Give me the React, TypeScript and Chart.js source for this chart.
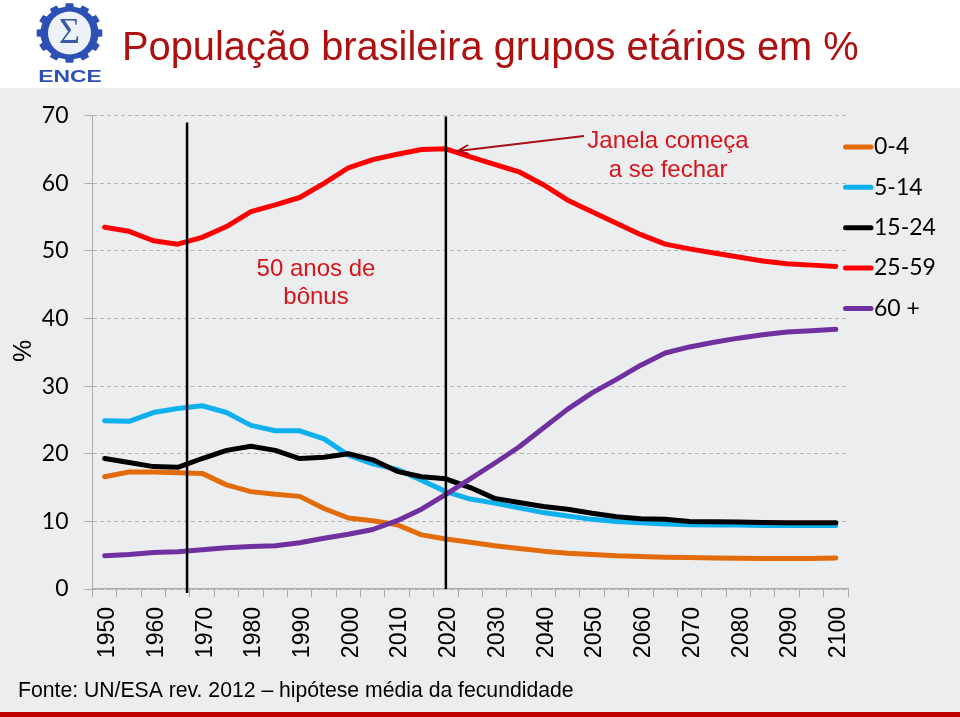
import React, { useEffect, useRef } from "react";
import { Chart, registerables } from "chart.js";

Chart.register(...registerables);

const years = [
  "1950", "1955", "1960", "1965", "1970", "1975", "1980", "1985", "1990", "1995", "2000",
  "2005", "2010", "2015", "2020", "2025", "2030", "2035", "2040", "2045", "2050",
  "2055", "2060", "2065", "2070", "2075", "2080", "2085", "2090", "2095", "2100",
];
const age0to4 = [16.6, 17.3, 17.3, 17.2, 17.1, 15.4, 14.4, 14.0, 13.7, 11.9, 10.5, 10.1, 9.5, 8.0, 7.4, 6.9, 6.4, 6.0, 5.6, 5.3, 5.1, 4.9, 4.8, 4.7, 4.65, 4.6, 4.55, 4.5, 4.5, 4.5, 4.6];
const age5to14 = [24.9, 24.8, 26.1, 26.7, 27.1, 26.1, 24.2, 23.4, 23.4, 22.2, 19.8, 18.5, 17.7, 16.1, 14.4, 13.3, 12.7, 12.0, 11.3, 10.8, 10.3, 10.0, 9.8, 9.6, 9.5, 9.45, 9.45, 9.4, 9.4, 9.4, 9.4];
const age15to24 = [19.3, 18.7, 18.1, 18.0, 19.3, 20.5, 21.1, 20.5, 19.3, 19.5, 20.0, 19.1, 17.4, 16.6, 16.3, 15.0, 13.4, 12.8, 12.2, 11.8, 11.2, 10.7, 10.4, 10.3, 10.0, 9.95, 9.9, 9.85, 9.8, 9.8, 9.8];
const age25to59 = [53.5, 52.9, 51.5, 51.0, 52.0, 53.6, 55.8, 56.8, 57.9, 60.0, 62.3, 63.5, 64.3, 65.0, 65.1, 63.9, 62.8, 61.7, 59.8, 57.5, 55.8, 54.1, 52.4, 51.0, 50.3, 49.7, 49.1, 48.5, 48.1, 47.9, 47.7];
const age60plus = [4.9, 5.1, 5.4, 5.5, 5.8, 6.1, 6.3, 6.4, 6.85, 7.5, 8.1, 8.8, 10.1, 11.8, 14.0, 16.3, 18.6, 21.0, 23.8, 26.6, 29.0, 31.0, 33.1, 34.9, 35.8, 36.5, 37.1, 37.6, 38.0, 38.2, 38.4];

const seriesNames = ["0-4", "5-14", "15-24", "25-59", "60 +"];
const seriesValues = [age0to4, age5to14, age15to24, age25to59, age60plus];
const seriesColors = ["#E36C0A", "#0FB0EE", "#000000", "#FF0000", "#7030A0"];

const titleText = "População brasileira grupos etários em %";
const sourceText = "Fonte: UN/ESA rev. 2012 – hipótese média da fecundidade";
const yAxisText = "%";
const bonusLines = ["50 anos de", "bônus"];
const windowLines = ["Janela começa", "a se fechar"];

// vertical markers, in (category index, value) terms
const bonusStart = { index: 3.38, top: 69, bottom: -0.6 };
const bonusEnd = { index: 14, top: 69.9, bottom: 0 };

const SANS = '"Liberation Sans", Arial, sans-serif';
const LATO = 'Lato, "Open Sans", sans-serif';

function drawLogo(ctx: CanvasRenderingContext2D) {
  const blue = "#2D50B4";
  const cx = 69.5;
  const cy = 33;
  ctx.save();
  ctx.save();
  ctx.translate(cx, cy);
  ctx.scale(1.1, 1);
  ctx.fillStyle = blue;
  ctx.beginPath();
  const teeth = 12;
  for (let i = 0; i < teeth; i++) {
    const a = (i / teeth) * Math.PI * 2 - Math.PI / 2;
    const w = (Math.PI * 2) / teeth;
    const pts: [number, number][] = [
      [a - w * 0.5, 26.5],
      [a - w * 0.28, 26.5],
      [a - w * 0.22, 30],
      [a + w * 0.22, 30],
      [a + w * 0.28, 26.5],
    ];
    pts.forEach(([t, r], k) => {
      const x = r * Math.cos(t);
      const y = r * Math.sin(t);
      if (i === 0 && k === 0) ctx.moveTo(x, y);
      else ctx.lineTo(x, y);
    });
  }
  ctx.closePath();
  ctx.fill();
  ctx.restore();
  ctx.fillStyle = "#EDF1F8";
  ctx.beginPath();
  ctx.arc(cx, cy, 21.5, 0, Math.PI * 2);
  ctx.fill();
  ctx.fillStyle = "#3A5AA8";
  ctx.font = '36px "Liberation Serif", serif';
  ctx.textAlign = "center";
  ctx.textBaseline = "middle";
  ctx.fillText("Σ", cx, cy + 1);
  ctx.font = "bold 16px " + SANS;
  ctx.fillStyle = blue;
  ctx.translate(70, 82);
  ctx.scale(1.43, 1);
  ctx.textBaseline = "alphabetic";
  ctx.fillText("ENCE", 0, 0);
  ctx.restore();
}

const backdrop = {
  id: "backdrop",
  beforeDraw(chart: any) {
    const { ctx, width, height } = chart;
    ctx.save();
    ctx.fillStyle = "#FFFFFF";
    ctx.fillRect(0, 0, width, height);
    ctx.fillStyle = "#ECEDEF";
    ctx.fillRect(0, 88, width, 624);
    ctx.fillStyle = "#C00000";
    ctx.fillRect(0, 712, width, 5);
    ctx.restore();
    drawLogo(ctx);
  },
};

const overlay = {
  id: "overlay",
  afterDatasetsDraw(chart: any) {
    const { ctx } = chart;
    const xs = chart.scales.x;
    const ys = chart.scales.y;
    ctx.save();
    // vertical markers
    ctx.strokeStyle = "#000000";
    ctx.lineWidth = 2.5;
    [bonusStart, bonusEnd].forEach((m) => {
      const x = xs.getPixelForValue(m.index);
      ctx.beginPath();
      ctx.moveTo(x, ys.getPixelForValue(m.top));
      ctx.lineTo(x, ys.getPixelForValue(m.bottom));
      ctx.stroke();
    });
    // arrow to the peak
    ctx.strokeStyle = "#A50F15";
    ctx.lineWidth = 2;
    ctx.beginPath();
    ctx.moveTo(584, 136);
    ctx.lineTo(458, 151);
    ctx.moveTo(468, 145);
    ctx.lineTo(458, 151);
    ctx.lineTo(469, 154);
    ctx.stroke();

    // texts
    ctx.textBaseline = "alphabetic";
    ctx.fillStyle = "#D7141A";
    ctx.font = "24px " + SANS;
    ctx.textAlign = "center";
    ctx.fillText(windowLines[0], 668, 148);
    ctx.fillText(windowLines[1], 668, 177);
    ctx.fillText(bonusLines[0], 316, 276);
    ctx.fillText(bonusLines[1], 316, 304);

    ctx.textAlign = "left";
    ctx.fillStyle = "#AE0F0F";
    ctx.font = "39.8px " + SANS;
    ctx.fillText(titleText, 122, 60);

    ctx.fillStyle = "#000000";
    ctx.font = "21.2px " + SANS;
    ctx.fillText(sourceText, 18, 697);

    ctx.save();
    ctx.translate(31, 351);
    ctx.rotate(-Math.PI / 2);
    ctx.textAlign = "center";
    ctx.font = "25px " + SANS;
    ctx.fillText(yAxisText, 0, 0);
    ctx.restore();

    // legend
    ctx.textBaseline = "middle";
    chart.data.datasets.forEach((ds: any, i: number) => {
      const y = 147 + i * 40.35;
      ctx.strokeStyle = ds.borderColor;
      ctx.lineWidth = 5;
      ctx.lineCap = "round";
      ctx.beginPath();
      ctx.moveTo(845.5, y);
      ctx.lineTo(871, y);
      ctx.stroke();
      ctx.fillStyle = "#000000";
      ctx.font = "23px " + LATO;
      ctx.textAlign = "left";
      ctx.fillText(ds.label, 874, y);
    });
    ctx.restore();
  },
};

export default function App() {
  const ref = useRef<HTMLCanvasElement>(null);

  useEffect(() => {
    const chart = new Chart(ref.current as HTMLCanvasElement, {
      type: "line",
      data: {
        labels: years,
        datasets: seriesNames.map((name, i) => ({
          label: name,
          data: seriesValues[i],
          borderColor: seriesColors[i],
          backgroundColor: seriesColors[i],
          borderWidth: 5,
          borderCapStyle: "round",
          borderJoinStyle: "round",
          pointRadius: 0,
          tension: 0,
          fill: false,
          order: seriesNames.length - i,
        })),
      },
      options: {
        animation: false,
        responsive: false,
        devicePixelRatio: 1,
        layout: { padding: { left: 0, right: 112, top: 115.7, bottom: 0 } },
        plugins: { legend: { display: false }, title: { display: false }, tooltip: { enabled: false } },
        scales: {
          x: {
            type: "category",
            offset: true,
            afterFit(scale: any) {
              scale.height = 128;
            },
            border: { display: true, color: "#ABABAB", width: 1.5 },
            grid: {
              offset: true,
              drawOnChartArea: false,
              drawTicks: true,
              tickLength: 8,
              color: "#ABABAB",
              lineWidth: 1,
            },
            ticks: {
              autoSkip: false,
              minRotation: 90,
              maxRotation: 90,
              padding: 10,
              labelOffset: 3,
              color: "#000000",
              font: { family: SANS, size: 23 },
              callback(_v: any, i: number) {
                return i % 2 === 0 ? years[i] : "";
              },
            },
          },
          y: {
            min: 0,
            max: 70,
            afterFit(scale: any) {
              scale.width = 92.5;
            },
            border: { display: true, color: "#ABABAB", width: 1, dash: [4, 3] },
            grid: {
              color: "#B4B4B4",
              lineWidth: 1,
              tickLength: 8,
              tickColor: "#ABABAB",
            },
            ticks: {
              stepSize: 10,
              padding: 16,
              color: "#000000",
              font: { family: LATO, size: 23 },
            },
          },
        },
      },
      plugins: [backdrop, overlay],
    } as any);
    return () => chart.destroy();
  }, []);

  return (
    <div style={{ position: "absolute", left: 0, top: 0, width: 960, height: 717 }}>
      <canvas ref={ref} width={960} height={717} style={{ display: "block" }} />
    </div>
  );
}
